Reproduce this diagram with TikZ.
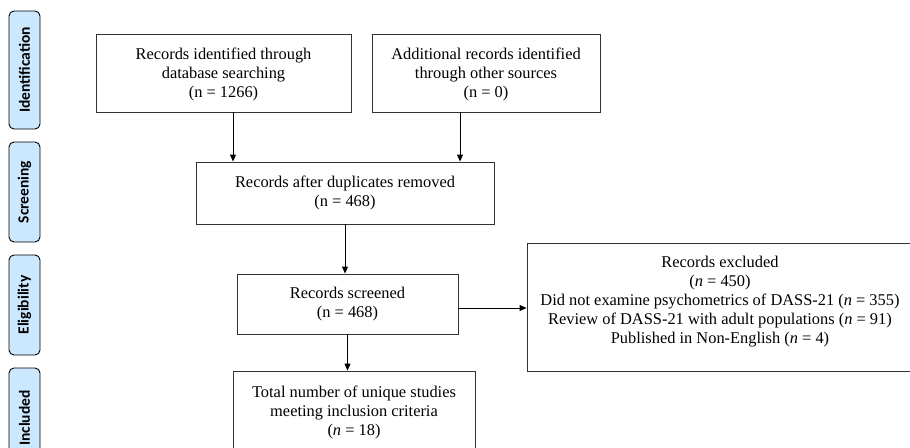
\documentclass[tikz,border=0pt]{standalone}
\usepackage{fontspec}
\setmainfont{Liberation Serif}
\newfontfamily\sidefont{Carlito}
\usetikzlibrary{arrows.meta}
\definecolor{sidefill}{HTML}{CCE8FF}
\begin{document}
\begin{tikzpicture}[x=1pt,y=-1pt,
  box/.style={draw=black!80,line width=0.9pt,inner sep=0pt,align=center},
  txt/.style={inner sep=0pt,align=center,font=\fontsize{16.4}{19}\selectfont},
  side/.style={draw=black,line width=0.9pt,fill=sidefill,rounded corners=5pt,minimum width=31pt,inner sep=0pt},
  sidetxt/.style={rotate=90,font=\sidefont\bfseries\fontsize{15.5}{18}\selectfont,inner sep=0pt},
  arr/.style={-{Triangle[length=7pt,width=6pt]},line width=0.9pt,black}]
\useasboundingbox (0,0) rectangle (910,447);
\clip (0,0) rectangle (910,447);
% side labels
\node[side,minimum height=118pt] (s1) at (24.5,70) {};
\node[sidetxt] (s1t) at (s1) {Identification};
\node[side,minimum height=100pt] (s2) at (24.5,192) {};
\node[sidetxt] (s2t) at (s2) {Screening};
\node[side,minimum height=100pt] (s3) at (24.5,305) {};
\node[sidetxt] (s3t) at (s3) {Eligibility};
\node[side,minimum height=100pt] (s4) at (24.5,418) {};
\node[sidetxt] (s4t) at (s4) {Included};
% boxes
\node[box,minimum width=255pt,minimum height=78pt] (b1) at (223.5,73) {};
\node[txt] (b1t) at (223.5,74) {Records identified through\\database searching\\(n = 1266)};
\node[box,minimum width=228pt,minimum height=78pt] (b2) at (486,73) {};
\node[txt] (b2t) at (486,74) {Additional records identified\\through other sources\\(n = 0)};
\node[box,minimum width=298pt,minimum height=62pt] (b3) at (345,193) {};
\node[txt] (b3t) at (345,193) {Records after duplicates removed\\(n = 468)};
\node[box,minimum width=221pt,minimum height=60pt] (b4) at (347.5,304) {};
\node[txt] (b4t) at (347.5,304) {Records screened\\(n = 468)};
\node[box,minimum width=386pt,minimum height=128pt] (ex) at (720,307) {};
\node[txt] (ext) at (720,302) {Records excluded\\({\itshape n} = 450)\\Did not examine psychometrics of DASS-21 ({\itshape n} = 355)\\Review of DASS-21 with adult populations ({\itshape n} = 91)\\Published in Non-English ({\itshape n} = 4)};
\node[box,minimum width=242pt,minimum height=100pt] (b5) at (354,421) {};
\node[txt] (b5t) at (354,412) {Total number of unique studies\\meeting inclusion criteria\\({\itshape n} = 18)};
% arrows
\draw[arr] ([xshift=9.5pt]b1.south) -- ([xshift=9.5pt]b1.south |- b3.north);
\draw[arr] ([xshift=-26pt]b2.south) -- ([xshift=-26pt]b2.south |- b3.north);
\draw[arr] (b3.south) -- (b3.south |- b4.north);
\draw[arr] ([yshift=-4pt]b4.east) -- ([yshift=-4pt]b4.east -| ex.west);
\draw[arr] (b4.south) -- (b4.south |- b5.north);
\end{tikzpicture}
\end{document}
